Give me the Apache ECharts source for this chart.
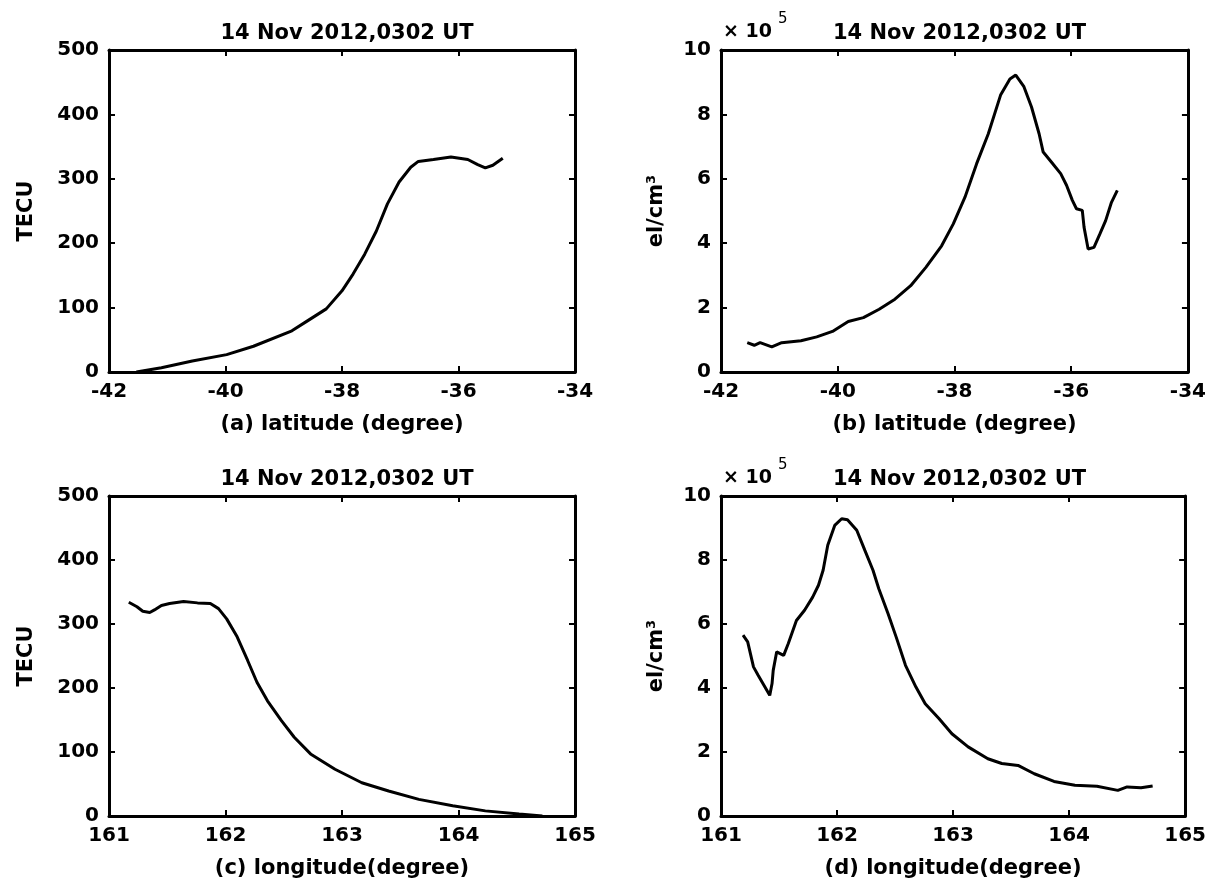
<!DOCTYPE html>
<html lang="en">
<head>
    <meta charset="UTF-8">
    <title>14 Nov 2012,0302 UT</title>
    <script type="text/javascript" src="https://cdn.jsdelivr.net/npm/echarts@6/dist/echarts.min.js"></script>
    <style>
        html, body {
            margin: 0;
            padding: 0;
            background: #ffffff;
        }
        #main {
            width: 1209px;
            height: 882px;
        }
    </style>
</head>
<body>
<div id="main"></div>
<script type="text/javascript">
    var titleText = '14 Nov 2012,0302 UT';
    var latRange = [-42, -34, 2];
    var lonRange = [161, 165, 1];
    var tecRange = [0, 500, 100];
    var neRange = [0, 10, 2];   // units of 10^5 el/cm^3

    // (a) TEC vs latitude
    var latA = [-41.53, -41.1, -40.57, -39.98, -39.52, -38.86, -38.6, -38.27, -38.0, -37.81, -37.61,
        -37.41, -37.22, -37.02, -36.82, -36.69, -36.43, -36.13, -35.84, -35.67, -35.54, -35.41, -35.24];
    var tecA = [0, 6.7, 17, 27, 40, 64, 79, 98, 126, 152, 183,
        219, 261, 295, 318, 327, 330, 334, 330, 322, 317, 321, 332];

    // (b) electron density vs latitude (x 10^5)
    var latB = [-41.55, -41.43, -41.33, -41.13, -40.96, -40.63, -40.36, -40.09, -39.82, -39.56, -39.29,
        -39.02, -38.75, -38.49, -38.22, -38.02, -37.82, -37.62, -37.42, -37.21, -37.05, -36.95,
        -36.81, -36.68, -36.55, -36.48, -36.34, -36.18, -36.08, -35.98, -35.91, -35.81, -35.78,
        -35.71, -35.61, -35.51, -35.41, -35.31, -35.21];
    var neB = [0.91, 0.83, 0.91, 0.78, 0.91, 0.97, 1.09, 1.26, 1.57, 1.69, 1.95,
        2.26, 2.68, 3.25, 3.92, 4.6, 5.43, 6.47, 7.4, 8.6, 9.1, 9.22,
        8.86, 8.23, 7.4, 6.83, 6.52, 6.16, 5.8, 5.33, 5.07, 5.02, 4.5,
        3.82, 3.87, 4.28, 4.7, 5.27, 5.64];

    // (c) TEC vs longitude
    var lonC = [161.17, 161.24, 161.29, 161.35, 161.39, 161.45, 161.52, 161.64, 161.76, 161.87, 161.94,
        162.01, 162.10, 162.19, 162.27, 162.36, 162.48, 162.59, 162.73, 162.94, 163.17, 163.40,
        163.66, 163.95, 164.23, 164.52, 164.72];
    var tecC = [334, 327, 320, 318, 322, 329, 332, 335, 333, 332, 324,
        308, 280, 243, 209, 180, 149, 123, 97, 73, 52, 39,
        26, 16, 8, 3, 0];

    // (d) electron density vs longitude (x 10^5)
    var lonD = [161.19, 161.23, 161.28, 161.32, 161.42, 161.44, 161.45, 161.48, 161.54, 161.58, 161.65,
        161.72, 161.79, 161.84, 161.88, 161.92, 161.98, 162.04, 162.09, 162.17, 162.24, 162.31,
        162.36, 162.44, 162.51, 162.59, 162.68, 162.76, 162.88, 162.99, 163.13, 163.30, 163.42,
        163.56, 163.70, 163.87, 164.05, 164.24, 164.42, 164.50, 164.62, 164.72];
    var neD = [5.65, 5.44, 4.66, 4.40, 3.77, 4.14, 4.55, 5.13, 5.02, 5.39, 6.11,
        6.43, 6.84, 7.21, 7.68, 8.46, 9.08, 9.29, 9.26, 8.93, 8.30, 7.68,
        7.10, 6.32, 5.59, 4.71, 4.03, 3.51, 3.04, 2.57, 2.16, 1.79, 1.64,
        1.58, 1.32, 1.08, 0.96, 0.93, 0.80, 0.91, 0.88, 0.94];

    var font = 'DejaVu Sans';

    function pairs(xs, ys) {
        return xs.map(function (x, i) { return [x, ys[i]]; });
    }

    var panels = [
        {left: 109, top: 50, width: 466, height: 322, x: latRange, y: tecRange,
            xName: '(a) latitude (degree)', yName: 'TECU', yGap: 72, data: pairs(latA, tecA)},
        {left: 721, top: 50, width: 467, height: 322, x: latRange, y: neRange,
            xName: '(b) latitude (degree)', yName: 'el/cm³', yGap: 54, data: pairs(latB, neB)},
        {left: 109, top: 496, width: 466, height: 320, x: lonRange, y: tecRange,
            xName: '(c) longitude(degree)', yName: 'TECU', yGap: 72, data: pairs(lonC, tecC)},
        {left: 721, top: 496, width: 467, height: 320, x: lonRange, y: neRange,
            xName: '(d) longitude(degree)', yName: 'el/cm³', yGap: 54, data: pairs(lonD, neD)}
    ];

    function axis(i, range, pos, name, gap) {
        var main = (pos === 'bottom' || pos === 'left');
        return {
            gridIndex: i,
            type: 'value',
            position: pos,
            min: range[0],
            max: range[1],
            interval: range[2],
            axisLine: {show: true, onZero: false, lineStyle: {color: '#000', width: 3}},
            axisTick: {show: true, inside: true, length: 6, lineStyle: {color: '#000', width: 2}},
            axisLabel: {show: main, color: '#000', fontFamily: font, fontWeight: 'bold',
                fontSize: 20, margin: 10},
            splitLine: {show: false},
            name: main ? name : '',
            nameLocation: 'middle',
            nameGap: gap,
            nameTextStyle: {color: '#000', fontFamily: font, fontWeight: 'bold', fontSize: 21}
        };
    }

    var grids = [], xAxes = [], yAxes = [], series = [], titles = [], graphics = [];
    panels.forEach(function (p, i) {
        grids.push({left: p.left, top: p.top, width: p.width, height: p.height,
            show: false, containLabel: false});
        xAxes.push(axis(i, p.x, 'bottom', p.xName, 42));
        xAxes.push(axis(i, p.x, 'top', '', 0));
        yAxes.push(axis(i, p.y, 'left', p.yName, p.yGap));
        yAxes.push(axis(i, p.y, 'right', '', 0));
        series.push({
            type: 'line',
            xAxisIndex: 2 * i,
            yAxisIndex: 2 * i,
            data: p.data,
            showSymbol: false,
            lineStyle: {color: '#000', width: 3},
            animation: false
        });
        titles.push({
            text: titleText,
            left: p.left + p.width / 2,
            top: p.top - 32,
            textAlign: 'center',
            textStyle: {color: '#000', fontFamily: font, fontWeight: 'bold', fontSize: 21}
        });
        // "x 10^5" exponent note above the density axes
        if (p.y === neRange) {
            graphics.push({type: 'text', left: p.left + 2, top: p.top - 27,
                style: {text: '× 10', fill: '#000', font: 'bold 19px "DejaVu Sans"'}});
            graphics.push({type: 'text', left: p.left + 57, top: p.top - 38,
                style: {text: '5', fill: '#000', font: '15px "DejaVu Sans"'}});
        }
    });

    var chart = echarts.init(document.getElementById('main'));
    chart.setOption({
        backgroundColor: '#ffffff',
        animation: false,
        title: titles,
        grid: grids,
        xAxis: xAxes,
        yAxis: yAxes,
        series: series,
        graphic: graphics
    });
</script>
</body>
</html>
